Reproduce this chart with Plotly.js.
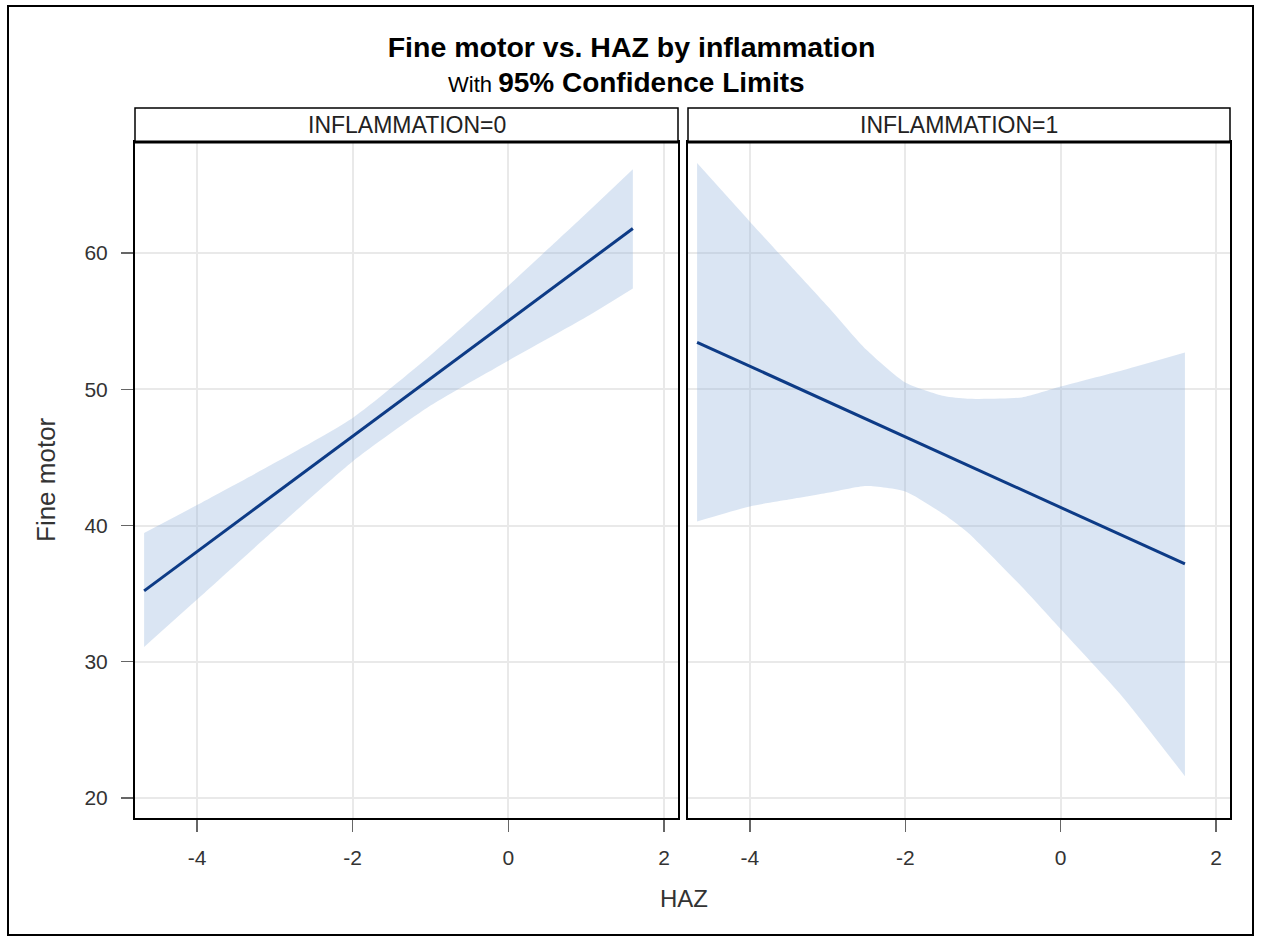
<!DOCTYPE html>
<html>
<head>
<meta charset="utf-8">
<script src="https://cdn.plot.ly/plotly-3.0.1.min.js"></script>
<style>
  html, body { margin: 0; padding: 0; background: #ffffff; }
  #chart { width: 1261px; height: 940px; }
</style>
</head>
<body>
<div id="chart"></div>
<script>
// ---- Data ----
const panelLabels = ['INFLAMMATION=0', 'INFLAMMATION=1'];

// Panel INFLAMMATION=0
const haz0Line = [-4.68, 1.60];
const fine0Line = [35.2, 61.8];
const haz0Band = [-4.68, -4, -3, -2, -1, 0, 1, 1.60];
const upper0 = [39.45, 41.5, 44.6, 47.9, 52.5, 57.6, 62.9, 66.15];
const lower0 = [31.08, 34.56, 39.7, 44.7, 48.8, 52.1, 55.3, 57.4];

// Panel INFLAMMATION=1
const haz1Line = [-4.68, 1.60];
const fine1Line = [53.45, 37.18];
const haz1Band = [-4.68, -4, -3.5, -3, -2.5, -2, -1.5, -1.2, -0.5, 0, 0.8, 1.60];
const upper1 = [66.6, 62.3, 59.2, 56.1, 52.9, 50.5, 49.5, 49.3, 49.4, 50.2, 51.4, 52.7];
const lower1 = [40.3, 41.4, 41.9, 42.4, 42.9, 42.5, 40.8, 39.5, 35.5, 32.4, 27.4, 21.6];

// Tick labels
const xTickVals = [-4, -2, 0, 2];
const xTickText = ['-4', '-2', '0', '2'];
const yTickVals = [20, 30, 40, 50, 60];
const yTickText = ['20', '30', '40', '50', '60'];

// ---- Styling ----
const FONT = 'Liberation Sans, Arial, Helvetica, sans-serif';
const bandFill = 'rgba(150,180,220,0.35)';
const lineColor = '#0d3b86';
const noLine = { width: 0, color: 'rgba(0,0,0,0)', shape: 'spline', smoothing: 0.6 };

const traces = [
  { x: haz0Band, y: lower0, xaxis: 'x', yaxis: 'y', type: 'scatter', mode: 'lines',
    line: noLine, hoverinfo: 'skip', showlegend: false },
  { x: haz0Band, y: upper0, xaxis: 'x', yaxis: 'y', type: 'scatter', mode: 'lines',
    fill: 'tonexty', fillcolor: bandFill, line: noLine, hoverinfo: 'skip', showlegend: false },
  { x: haz0Line, y: fine0Line, xaxis: 'x', yaxis: 'y', type: 'scatter', mode: 'lines',
    line: { color: lineColor, width: 3 }, showlegend: false },
  { x: haz1Band, y: lower1, xaxis: 'x2', yaxis: 'y2', type: 'scatter', mode: 'lines',
    line: noLine, hoverinfo: 'skip', showlegend: false },
  { x: haz1Band, y: upper1, xaxis: 'x2', yaxis: 'y2', type: 'scatter', mode: 'lines',
    fill: 'tonexty', fillcolor: bandFill, line: noLine, hoverinfo: 'skip', showlegend: false },
  { x: haz1Line, y: fine1Line, xaxis: 'x2', yaxis: 'y2', type: 'scatter', mode: 'lines',
    line: { color: lineColor, width: 3 }, showlegend: false }
];

const L = 135, R = 1230, T = 142, B = 818, W = 1261, H = 940;
const pw = R - L, ph = B - T;
const px = v => (v - L) / pw;          // page x -> paper x
const py = v => (B - v) / ph;          // page y -> paper y

const d0 = [0, px(678)];
const d1 = [px(688), 1];

const xCommon = {
  range: [-4.797, 2.18], tickvals: xTickVals, ticktext: xTickText,
  showgrid: true, gridcolor: '#e9e9e9', gridwidth: 2,
  zeroline: false, showline: true, linecolor: '#000000', linewidth: 2, mirror: true,
  ticks: 'outside', ticklen: 12, tickwidth: 1.5, tickcolor: '#666666',
  ticklabelstandoff: 8,
  tickfont: { family: FONT, size: 21, color: '#333333' }
};
const yCommon = {
  range: [18.53, 68.15], tickvals: yTickVals, ticktext: yTickText,
  showgrid: true, gridcolor: '#e9e9e9', gridwidth: 2,
  zeroline: false, showline: true, linecolor: '#000000', linewidth: 2, mirror: true,
  tickfont: { family: FONT, size: 21, color: '#333333' }
};

const stripTop = py(108);
const shapes = [
  { type: 'rect', xref: 'paper', yref: 'paper', x0: px(8), x1: px(1253), y0: py(935), y1: py(6),
    line: { color: '#000000', width: 2 }, fillcolor: 'rgba(0,0,0,0)', layer: 'above' },
  { type: 'rect', xref: 'paper', yref: 'paper', x0: d0[0], x1: d0[1], y0: 1, y1: stripTop,
    line: { color: '#000000', width: 1.5 }, fillcolor: '#ffffff' },
  { type: 'rect', xref: 'paper', yref: 'paper', x0: d1[0], x1: d1[1], y0: 1, y1: stripTop,
    line: { color: '#000000', width: 1.5 }, fillcolor: '#ffffff' },
  { type: 'line', xref: 'paper', yref: 'paper', x0: d0[0], x1: d0[1], y0: 1, y1: 1,
    line: { color: '#000000', width: 3 } },
  { type: 'line', xref: 'paper', yref: 'paper', x0: d1[0], x1: d1[1], y0: 1, y1: 1,
    line: { color: '#000000', width: 3 } }
];

const annotations = [
  { xref: 'paper', yref: 'paper', x: (d0[0] + d0[1]) / 2, y: (1 + stripTop) / 2,
    text: panelLabels[0], showarrow: false, xanchor: 'center', yanchor: 'middle',
    font: { family: FONT, size: 23, color: '#222222' } },
  { xref: 'paper', yref: 'paper', x: (d1[0] + d1[1]) / 2, y: (1 + stripTop) / 2,
    text: panelLabels[1], showarrow: false, xanchor: 'center', yanchor: 'middle',
    font: { family: FONT, size: 23, color: '#222222' } },
  { xref: 'paper', yref: 'paper', x: px(626), y: py(82), xanchor: 'center', yanchor: 'middle',
    showarrow: false,
    text: '<span style="font-size:22px">With </span><b>95% Confidence Limits</b>',
    font: { family: FONT, size: 28, color: '#000000' } },
  { xref: 'paper', yref: 'paper', x: px(46), y: 0.5, xanchor: 'center', yanchor: 'middle',
    showarrow: false, textangle: -90, text: 'Fine motor',
    font: { family: FONT, size: 26, color: '#333333' } },
  { xref: 'paper', yref: 'paper', x: px(684), y: py(898), xanchor: 'center', yanchor: 'middle',
    showarrow: false, text: 'HAZ',
    font: { family: FONT, size: 24, color: '#333333' } }
];

const layout = {
  width: W, height: H,
  margin: { l: L, r: W - R, t: T, b: H - B, pad: 0 },
  paper_bgcolor: '#ffffff', plot_bgcolor: '#ffffff',
  showlegend: false,
  title: {
    text: '<b>Fine motor vs. HAZ by inflammation</b>',
    font: { family: FONT, size: 28.5, color: '#000000' },
    x: 631.5 / W, xref: 'container', xanchor: 'center',
    y: 1 - 47 / H, yref: 'container', yanchor: 'middle'
  },
  xaxis: Object.assign({}, xCommon, { domain: d0, anchor: 'y' }),
  xaxis2: Object.assign({}, xCommon, { domain: d1, anchor: 'y2' }),
  yaxis: Object.assign({}, yCommon, { domain: [0, 1], anchor: 'x',
    ticks: 'outside', ticklen: 12, tickwidth: 1.5, tickcolor: '#666666', ticklabelstandoff: 9 }),
  yaxis2: Object.assign({}, yCommon, { domain: [0, 1], anchor: 'x2', matches: 'y',
    showticklabels: false, ticks: '' }),
  shapes: shapes,
  annotations: annotations
};

Plotly.newPlot('chart', traces, layout, { displayModeBar: false, staticPlot: true });
</script>
</body>
</html>
